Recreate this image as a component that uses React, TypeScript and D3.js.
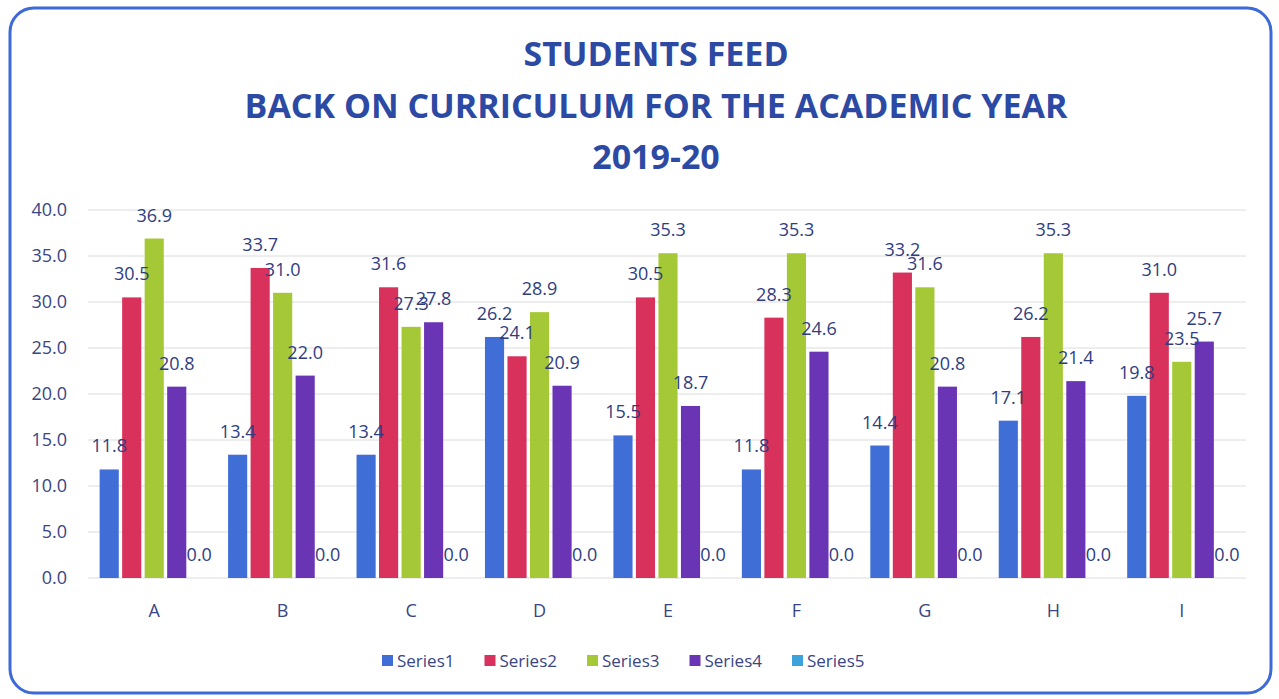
import { useEffect, useRef } from "react";
import * as d3 from "d3";

const categories = ["A", "B", "C", "D", "E", "F", "G", "H", "I"];
const seriesNames = ["Series1", "Series2", "Series3", "Series4", "Series5"];
const series1 = [11.8, 13.4, 13.4, 26.2, 15.5, 11.8, 14.4, 17.1, 19.8];
const series2 = [30.5, 33.7, 31.6, 24.1, 30.5, 28.3, 33.2, 26.2, 31.0];
const series3 = [36.9, 31.0, 27.3, 28.9, 35.3, 35.3, 31.6, 35.3, 23.5];
const series4 = [20.8, 22.0, 27.8, 20.9, 18.7, 24.6, 20.8, 21.4, 25.7];
const series5 = [0, 0, 0, 0, 0, 0, 0, 0, 0];
const yTicks = [0, 5, 10, 15, 20, 25, 30, 35, 40];
const titleLines = ["STUDENTS FEED", "BACK ON CURRICULUM FOR THE ACADEMIC YEAR", "2019-20"];

const colors = ["#3f6fd6", "#d8315b", "#a5c936", "#6a35b5", "#3ca3da"];
const FONT = "'Open Sans', 'DejaVu Sans', sans-serif";

const BarGroups = () => {
  const svgRef = useRef<SVGSVGElement | null>(null);

  useEffect(() => {
    if (!svgRef.current) return;
    const svg = d3.select(svgRef.current);
    svg.selectAll("*").remove();

    const width = 1279;
    const height = 699;
    const plot = { left: 90, right: 1246, top: 210, bottom: 578 };

    const allSeries = [series1, series2, series3, series4, series5];
    const rows = categories.map((c, i) => ({
      label: c,
      values: allSeries.map((s, k) => ({ key: seriesNames[k], value: s[i], k }))
    }));

    svg.attr("width", width).attr("height", height);

    // Frame
    svg.append("rect")
      .attr("x", 10)
      .attr("y", 8)
      .attr("width", 1261)
      .attr("height", 685)
      .attr("rx", 24)
      .attr("fill", "#fff")
      .attr("stroke", "#3d6ad6")
      .attr("stroke-width", 3);

    // Title
    svg.append("g")
      .selectAll("text")
      .data(titleLines)
      .join("text")
      .attr("x", 656)
      .attr("y", (_, i) => 66 + i * 51.5)
      .attr("text-anchor", "middle")
      .attr("font-family", FONT)
      .attr("font-weight", 700)
      .attr("font-size", 34)
      .attr("fill", "#2c4aa3")
      .text(d => d);

    // Scales
    const x0 = d3.scaleBand()
      .domain(categories)
      .range([plot.left, plot.right])
      .paddingInner(0.15)
      .paddingOuter(0.075);

    const x1 = d3.scaleBand()
      .domain(seriesNames)
      .range([0, x0.bandwidth()])
      .paddingInner(0.15)
      .paddingOuter(0);

    const y = d3.scaleLinear()
      .domain([0, 40])
      .range([plot.bottom, plot.top]);

    // Grid
    svg.append("g")
      .selectAll("line")
      .data(yTicks)
      .join("line")
      .attr("x1", 88)
      .attr("x2", plot.right)
      .attr("y1", d => y(d))
      .attr("y2", d => y(d))
      .attr("stroke", "#dcdcdc")
      .attr("stroke-width", 1);

    // Y axis labels
    svg.append("g")
      .selectAll("text")
      .data(yTicks)
      .join("text")
      .attr("x", 67)
      .attr("y", d => y(d))
      .attr("dy", "0.35em")
      .attr("text-anchor", "end")
      .attr("font-family", FONT)
      .attr("font-size", 18)
      .attr("fill", "#3a4584")
      .text(d => d3.format(".1f")(d));

    // X axis labels
    svg.append("g")
      .selectAll("text")
      .data(categories)
      .join("text")
      .attr("x", d => (x0(d) || 0) + x0.bandwidth() / 2)
      .attr("y", 617)
      .attr("text-anchor", "middle")
      .attr("font-family", FONT)
      .attr("font-size", 18)
      .attr("fill", "#3a4584")
      .text(d => d);

    // Bars
    const groups = svg.append("g")
      .selectAll("g")
      .data(rows)
      .join("g")
      .attr("transform", d => `translate(${x0(d.label)},0)`);

    groups.selectAll("rect")
      .data(d => d.values)
      .join("rect")
      .attr("x", d => x1(d.key) || 0)
      .attr("y", d => y(d.value))
      .attr("width", x1.bandwidth())
      .attr("height", d => plot.bottom - y(d.value))
      .attr("fill", d => colors[d.k]);

    groups.selectAll("text")
      .data(d => d.values)
      .join("text")
      .attr("x", d => (x1(d.key) || 0) + x1.bandwidth() / 2)
      .attr("y", d => y(d.value) - 17)
      .attr("text-anchor", "middle")
      .attr("font-family", FONT)
      .attr("font-size", 18)
      .attr("fill", "#2f3d80")
      .text(d => d3.format(".1f")(d.value));

    // Legend
    const legend = svg.append("g")
      .selectAll("g")
      .data(seriesNames)
      .join("g")
      .attr("transform", (_, i) => `translate(${382 + i * 102.5},661)`);

    legend.append("rect")
      .attr("x", 0)
      .attr("y", -6)
      .attr("width", 11)
      .attr("height", 11)
      .attr("fill", (_, i) => colors[i]);

    legend.append("text")
      .attr("x", 15)
      .attr("y", 0)
      .attr("dy", "0.35em")
      .attr("font-family", FONT)
      .attr("font-size", 17)
      .attr("fill", "#3a4584")
      .text(d => d);
  }, []);

  return <svg ref={svgRef} style={{ position: "absolute", left: 0, top: 0 }} />;
};

export default function App() {
  return <BarGroups />;
}
